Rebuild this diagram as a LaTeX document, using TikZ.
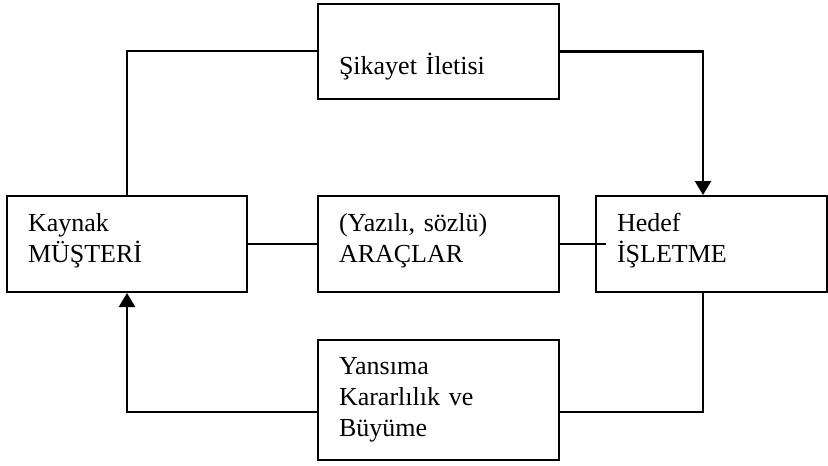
\documentclass[tikz,border=0pt]{standalone}
\usepackage{fontspec}
\setmainfont{Liberation Serif}
\usetikzlibrary{arrows.meta,positioning}

\begin{document}
\begin{tikzpicture}[x=0.5pt,y=-0.5pt,on grid,
    box/.style={draw,line width=1pt,inner xsep=10.5pt,inner ysep=0pt,align=left,
                font=\fontsize{13pt}{15.5pt}\selectfont,text height=17.5pt,text depth=30.5pt},
    link/.style={line width=1pt},
    flow/.style={line width=1.2pt,-{Triangle[width=8pt,length=7pt]}}]
    \useasboundingbox (0,0) rectangle (828,465);
    \node[box,text width=99.5pt] (arac) at (438.5,244) {(Yazılı, sözlü)\\ARAÇLAR};
    \node[box,text width=99pt]   (kaynak)  [left=155.75pt of arac] {Kaynak\\MÜŞTERİ};
    \node[box,text width=94.5pt] (hedef)   [right=136.5pt of arac] {Hedef\\İŞLETME};
    \node[box,text width=99.5pt,text height=35.5pt,text depth=12pt] (sikayet) [above=96.25pt of arac] {Şikayet İletisi};
    \node[box,text width=99.5pt,text height=17pt,text depth=43pt]   (yansima) [below=78pt of arac] {Yansıma\\Kararlılık ve\\Büyüme};
    \draw[link] (sikayet.west) -| (kaynak.north);
    \draw[flow] (sikayet.east) -| ([xshift=-4.25pt]hedef.north);
    \draw[link] (kaynak.east) -- (arac.west);
    \draw[link] (arac.east) -- ([xshift=5.5pt]hedef.west);
    \draw[flow] ([yshift=-6pt]yansima.west) -| (kaynak.south);
    \draw[link] ([yshift=-6pt]yansima.east) -| ([xshift=-4.25pt]hedef.south);
\end{tikzpicture}
\end{document}
